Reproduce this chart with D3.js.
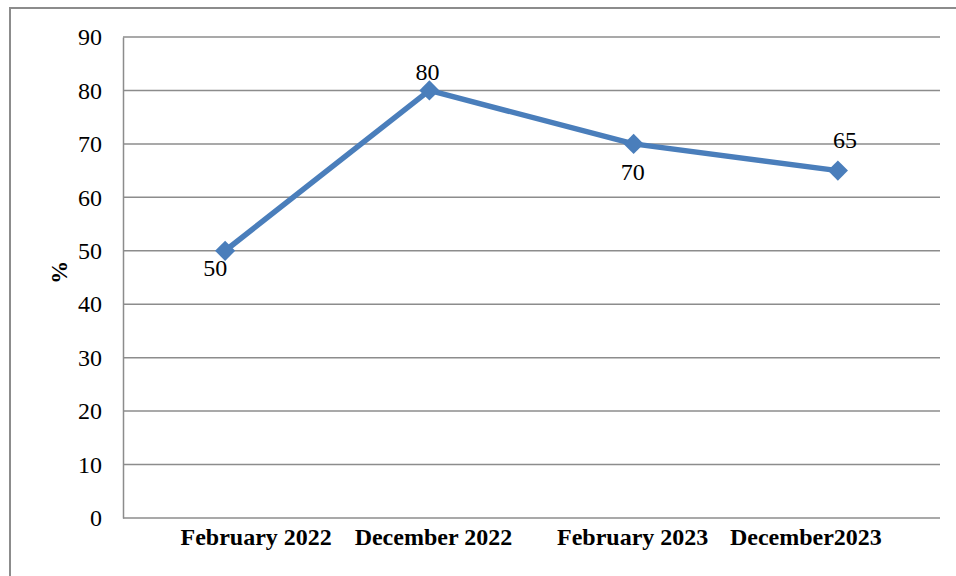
<!DOCTYPE html>
<html>
<head>
<meta charset="utf-8">
<script src="https://cdn.jsdelivr.net/npm/d3@7"></script>
<style>
  body { margin: 0; background: #fff; }
  svg text { font-family: "Liberation Serif", "Times New Roman", serif; }
</style>
</head>
<body>
<div class="chart"></div>
<script>
var width = 956, height = 576;

// data
var categories = ["February 2022", "December 2022", "February 2023", "December2023"];
var values = [50, 80, 70, 65];
var yTicks = [0, 10, 20, 30, 40, 50, 60, 70, 80, 90];

// label nudges (px) to mimic the original layout
var xLabelShift = [31, 4, -1, -32];
var valueLabelDx = [-10, -2, -1, 7];
var valueLabelDy = [25, -10, 36, -23];

var margin = { top: 37, right: 16, bottom: 58, left: 123 };

var svg = d3.select(".chart")
            .append("svg")
            .attr("width", width)
            .attr("height", height);

// outer chart frame (runs off the right and bottom edges)
svg.append("rect")
   .attr("x", 10).attr("y", 8)
   .attr("width", 960).attr("height", 600)
   .attr("fill", "none")
   .attr("stroke", "#8c8c8c")
   .attr("stroke-width", 2);

var x = d3.scaleBand()
          .domain(categories)
          .range([margin.left, width - margin.right]);

var y = d3.scaleLinear()
          .domain([0, 90])
          .range([height - margin.bottom, margin.top]);

// gridlines
svg.append("g")
   .selectAll("line")
   .data(yTicks)
   .enter().append("line")
   .attr("x1", margin.left)
   .attr("x2", width - margin.right)
   .attr("y1", d => y(d))
   .attr("y2", d => y(d))
   .attr("stroke", "#8c8c8c")
   .attr("stroke-width", 1.5);

// y axis
var yAxis = svg.append("g")
   .attr("transform", "translate(" + margin.left + ",0)")
   .call(d3.axisLeft(y).tickValues(yTicks).tickSize(0).tickPadding(21));
yAxis.attr("font-family", null);
yAxis.select(".domain").attr("stroke", "#8c8c8c").attr("stroke-width", 1.5);
yAxis.selectAll("text")
     .style("font-size", "24px")
     .attr("fill", "#000");

// x axis
var xAxis = svg.append("g")
   .attr("transform", "translate(0," + y(0) + ")")
   .call(d3.axisBottom(x).tickSize(0).tickPadding(10));
xAxis.attr("font-family", null);
xAxis.select(".domain").remove();
xAxis.selectAll("text")
     .attr("dx", (d, i) => xLabelShift[i])
     .attr("dy", "0.72em")
     .style("font-size", "24px")
     .style("font-weight", "bold")
     .attr("fill", "#000");

// y axis title
svg.append("text")
   .attr("transform", "translate(67," + y(46) + ") rotate(-90)")
   .attr("text-anchor", "middle")
   .style("font-size", "23px")
   .style("font-weight", "bold")
   .text("%");

var pts = categories.map((c, i) => ({ c: c, v: values[i], i: i }));
var cx = d => x(d.c) + x.bandwidth() / 2;

var line = d3.line()
             .x(cx)
             .y(d => y(d.v));

svg.append("path")
   .datum(pts)
   .attr("d", line)
   .attr("fill", "none")
   .attr("stroke", "#4a7ebb")
   .attr("stroke-width", 5.5)
   .attr("stroke-linejoin", "round");

svg.selectAll(".marker")
   .data(pts)
   .enter().append("path")
   .attr("class", "marker")
   .attr("transform", d => "translate(" + cx(d) + "," + y(d.v) + ")")
   .attr("d", d3.symbol().type(d3.symbolDiamond2).size(260))
   .attr("fill", "#4a7ebb");

svg.selectAll(".dlabel")
   .data(pts)
   .enter().append("text")
   .attr("class", "dlabel")
   .attr("x", d => cx(d) + valueLabelDx[d.i])
   .attr("y", d => y(d.v) + valueLabelDy[d.i])
   .attr("text-anchor", "middle")
   .style("font-size", "24px")
   .attr("fill", "#000")
   .text(d => d.v);
</script>
</body>
</html>
